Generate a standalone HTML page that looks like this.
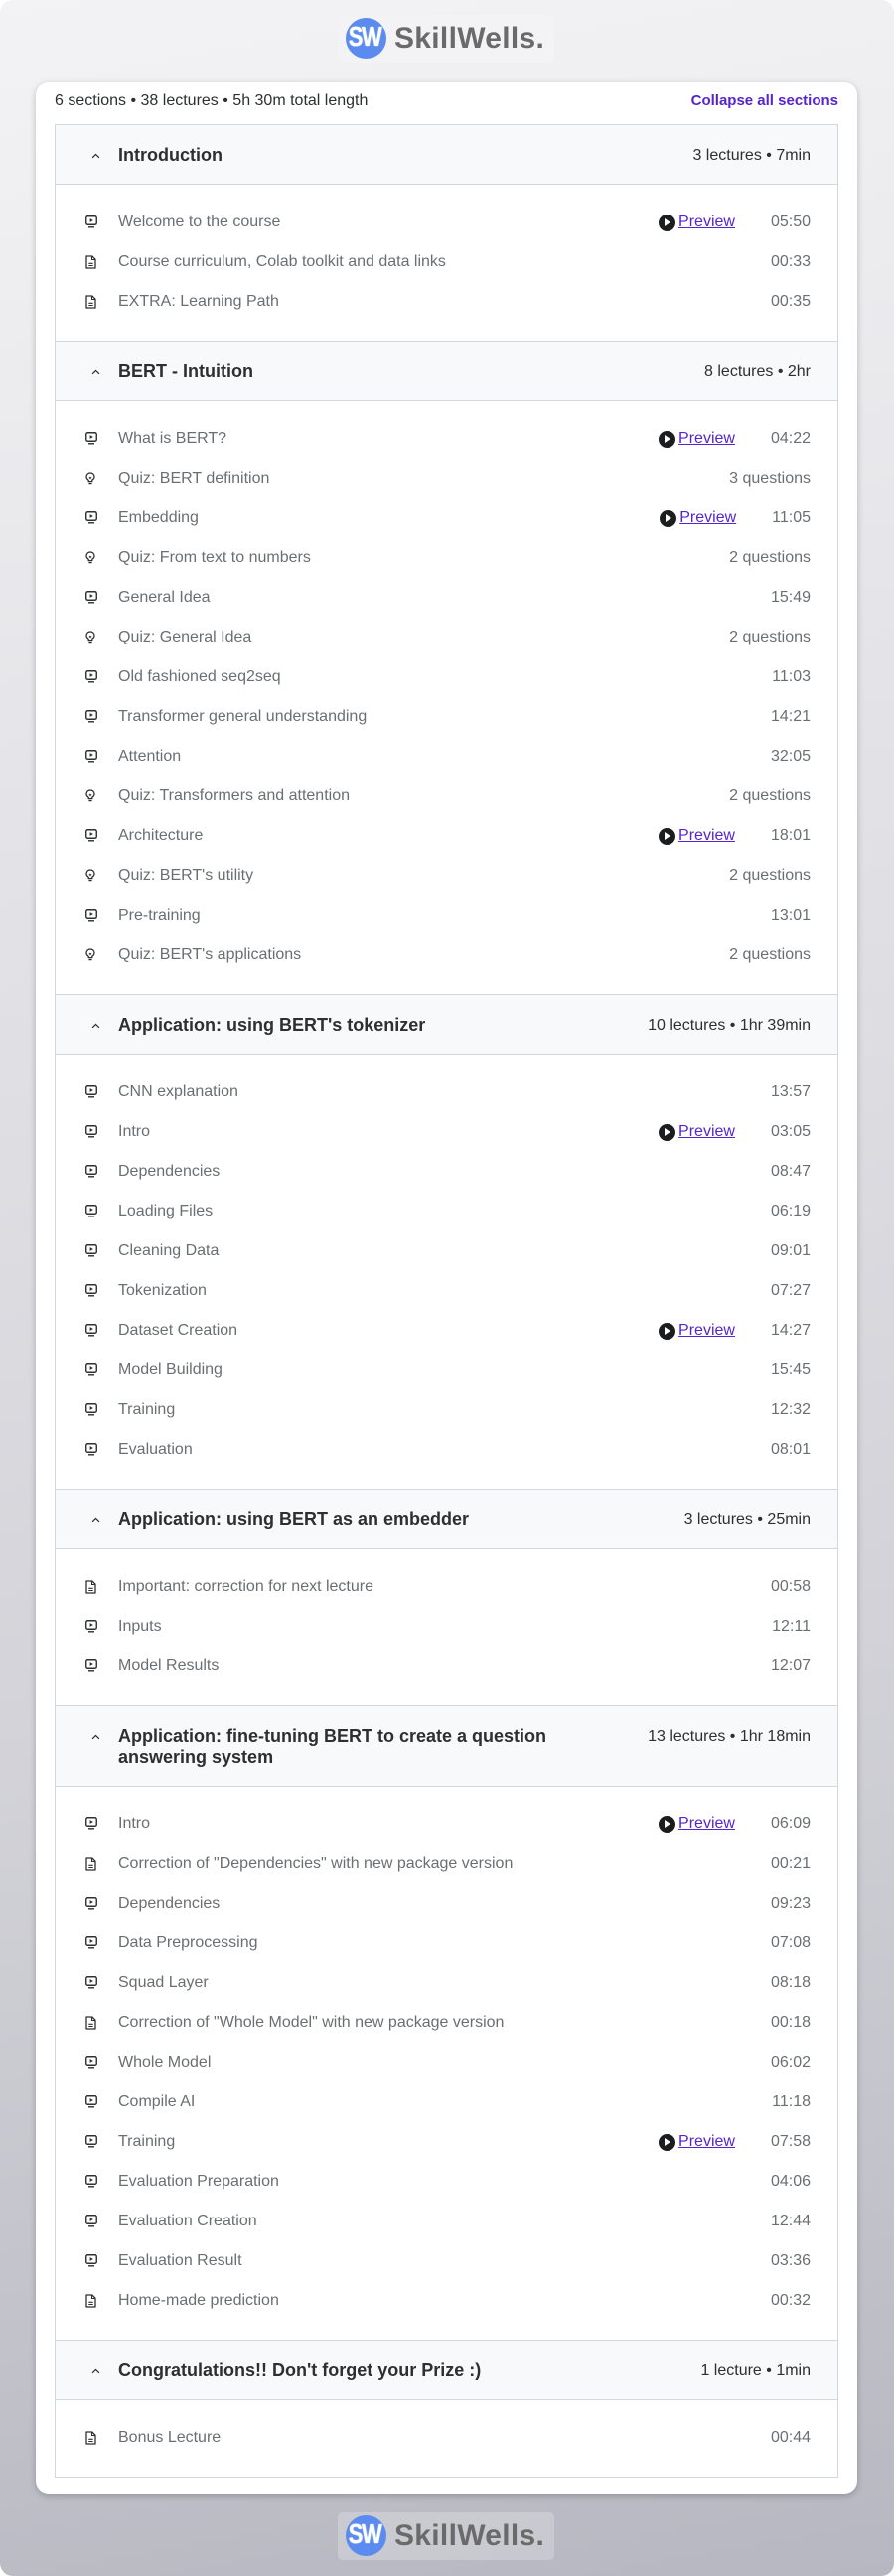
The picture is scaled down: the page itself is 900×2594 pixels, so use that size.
<!DOCTYPE html>
<html><head><meta charset="utf-8">
<style>
*{box-sizing:border-box;margin:0;padding:0}
html,body{width:900px;height:2594px;background:#fff;overflow:hidden}
body{font-family:"Liberation Sans",Arial,sans-serif;position:relative}
.bg{position:absolute;left:0;top:0;width:900px;height:2594px;border-radius:13px;background:linear-gradient(170deg,#f3f3f5 0%,#e4e4e8 30%,#d2d2d8 65%,#b7b7c1 100%)}
.logo{position:absolute;left:340px;width:218px;height:48px;border-radius:5px;background:#f3f3f5}
.logo.bot{background:rgba(255,255,255,0.22)}
.logo .c{position:absolute;left:8px;top:3px;width:41px;height:41px;border-radius:50%;background:#5b8bee}
.logo .sw{position:absolute;left:3px;top:8px;width:48px;text-align:center;color:#fff;font-weight:bold;font-size:22px;line-height:28px;letter-spacing:-1.5px;transform:scaleY(1.25);text-shadow:0 0 1px #fff}
.logo .t{position:absolute;left:57px;top:8px;color:#6a6a6a;font-weight:bold;font-size:30px;line-height:32px;letter-spacing:0.3px}
.card{position:absolute;left:36px;top:83px;width:827px;height:2428px;background:#fff;border-radius:13px;box-shadow:0 2px 7px rgba(0,0,0,0.22)}
.sum{position:absolute;left:19px;top:9px;font-size:16px;line-height:20px;color:#2d2f31}
.col{position:absolute;right:19px;top:9px;font-size:15px;line-height:20px;color:#5624d0;font-weight:bold}
.box{position:absolute;left:19px;top:42px;width:789px;border:1px solid #d1d7dc}
.sh{position:relative;background:#f7f9fa;border-bottom:1px solid #d1d7dc;padding:20px 27px 18px 63px;display:flex;justify-content:space-between;align-items:flex-start}
.sh .ti{font-weight:bold;font-size:18px;line-height:21px;color:#2d2f31}
.sh .me{font-size:16px;line-height:21px;color:#2d2f31;white-space:nowrap}
.sh svg.ch{position:absolute;left:36px;top:28px}
.ct{padding:18px 0 19px 0;border-bottom:1px solid #d1d7dc}
.ct.last{border-bottom:none}
.r{position:relative;height:40px}
.r svg.ic{position:absolute;left:30px;top:13px}
.r .n{position:absolute;left:63px;top:10px;font-size:16px;line-height:20px;color:#6a6f73;white-space:nowrap}
.r .rt{position:absolute;right:27px;top:10px;font-size:16px;line-height:20px;color:#6a6f73;display:flex;align-items:center;white-space:nowrap}
.pv{display:flex;align-items:center;margin-right:36px}
.pv .pc{width:17px;height:17px;border-radius:50%;background:#1c1d1f;position:relative;margin-right:3px}
.pv .pc:after{content:"";position:absolute;left:6px;top:4.5px;border-left:6px solid #fff;border-top:4px solid transparent;border-bottom:4px solid transparent}
.pv a{color:#5624d0;text-decoration:underline}
</style></head><body>
<div class="bg"></div>
<svg width="0" height="0" style="position:absolute">
<defs>
<symbol id="vid" viewBox="0 0 12 13"><rect x="0.75" y="0.75" width="10.5" height="8.5" rx="1.5" fill="none" stroke="#2d2f31" stroke-width="1.4"/><path d="M4.6 3.1 L7.9 5 L4.6 6.9 Z" fill="#2d2f31"/><path d="M3 11.8 H9" stroke="#2d2f31" stroke-width="1.4"/></symbol>
<symbol id="doc" viewBox="0 0 11 14"><path d="M1 1 H6.8 L10 4.2 V13 H1 Z" fill="none" stroke="#2d2f31" stroke-width="1.3" stroke-linejoin="round"/><path d="M6.5 1 V4.5 H10" fill="none" stroke="#2d2f31" stroke-width="1.1"/><path d="M3.3 8.3 H7.7 M3.3 10.5 H7.7" stroke="#2d2f31" stroke-width="1.1"/></symbol>
<symbol id="quiz" viewBox="0 0 10 13"><path d="M3.2 8.3 C1.8 7.4 1 6.2 1 4.8 C1 2.6 2.8 1 5 1 C7.2 1 9 2.6 9 4.8 C9 6.2 8.2 7.4 6.8 8.3 V9.6 H3.2 Z" fill="none" stroke="#2d2f31" stroke-width="1.3" stroke-linejoin="round"/><path d="M3.4 11.6 H6.6" stroke="#2d2f31" stroke-width="1.3"/><path d="M4 5 L5 6.6 L6 5" fill="none" stroke="#2d2f31" stroke-width="1"/></symbol>
<symbol id="chev" viewBox="0 0 10 6"><path d="M1.2 5 L5 1.3 L8.8 5" fill="none" stroke="#2d2f31" stroke-width="1.4"/></symbol>
</defs></svg>

<div class="logo" style="top:15px"><div class="c"></div><div class="sw">SW</div><div class="t">SkillWells.</div></div>

<div class="card">
<div class="sum">6 sections • 38 lectures • 5h 30m total length</div>
<div class="col">Collapse all sections</div>
<div class="box">

<div class="sh"><svg class="ch" width="9" height="6"><use href="#chev"/></svg><div class="ti">Introduction</div><div class="me">3 lectures • 7min</div></div>
<div class="ct">
<div class="r"><svg class="ic" width="12" height="13"><use href="#vid"/></svg><div class="n">Welcome to the course</div><div class="rt"><span class="pv"><span class="pc"></span><a>Preview</a></span>05:50</div></div>
<div class="r"><svg class="ic" width="11" height="14"><use href="#doc"/></svg><div class="n">Course curriculum, Colab toolkit and data links</div><div class="rt">00:33</div></div>
<div class="r"><svg class="ic" width="11" height="14"><use href="#doc"/></svg><div class="n">EXTRA: Learning Path</div><div class="rt">00:35</div></div>
</div>

<div class="sh"><svg class="ch" width="9" height="6"><use href="#chev"/></svg><div class="ti">BERT - Intuition</div><div class="me">8 lectures • 2hr</div></div>
<div class="ct">
<div class="r"><svg class="ic" width="12" height="13"><use href="#vid"/></svg><div class="n">What is BERT?</div><div class="rt"><span class="pv"><span class="pc"></span><a>Preview</a></span>04:22</div></div>
<div class="r"><svg class="ic" width="10" height="13"><use href="#quiz"/></svg><div class="n">Quiz: BERT definition</div><div class="rt">3 questions</div></div>
<div class="r"><svg class="ic" width="12" height="13"><use href="#vid"/></svg><div class="n">Embedding</div><div class="rt"><span class="pv"><span class="pc"></span><a>Preview</a></span>11:05</div></div>
<div class="r"><svg class="ic" width="10" height="13"><use href="#quiz"/></svg><div class="n">Quiz: From text to numbers</div><div class="rt">2 questions</div></div>
<div class="r"><svg class="ic" width="12" height="13"><use href="#vid"/></svg><div class="n">General Idea</div><div class="rt">15:49</div></div>
<div class="r"><svg class="ic" width="10" height="13"><use href="#quiz"/></svg><div class="n">Quiz: General Idea</div><div class="rt">2 questions</div></div>
<div class="r"><svg class="ic" width="12" height="13"><use href="#vid"/></svg><div class="n">Old fashioned seq2seq</div><div class="rt">11:03</div></div>
<div class="r"><svg class="ic" width="12" height="13"><use href="#vid"/></svg><div class="n">Transformer general understanding</div><div class="rt">14:21</div></div>
<div class="r"><svg class="ic" width="12" height="13"><use href="#vid"/></svg><div class="n">Attention</div><div class="rt">32:05</div></div>
<div class="r"><svg class="ic" width="10" height="13"><use href="#quiz"/></svg><div class="n">Quiz: Transformers and attention</div><div class="rt">2 questions</div></div>
<div class="r"><svg class="ic" width="12" height="13"><use href="#vid"/></svg><div class="n">Architecture</div><div class="rt"><span class="pv"><span class="pc"></span><a>Preview</a></span>18:01</div></div>
<div class="r"><svg class="ic" width="10" height="13"><use href="#quiz"/></svg><div class="n">Quiz: BERT's utility</div><div class="rt">2 questions</div></div>
<div class="r"><svg class="ic" width="12" height="13"><use href="#vid"/></svg><div class="n">Pre-training</div><div class="rt">13:01</div></div>
<div class="r"><svg class="ic" width="10" height="13"><use href="#quiz"/></svg><div class="n">Quiz: BERT's applications</div><div class="rt">2 questions</div></div>
</div>

<div class="sh"><svg class="ch" width="9" height="6"><use href="#chev"/></svg><div class="ti">Application: using BERT's tokenizer</div><div class="me">10 lectures • 1hr 39min</div></div>
<div class="ct">
<div class="r"><svg class="ic" width="12" height="13"><use href="#vid"/></svg><div class="n">CNN explanation</div><div class="rt">13:57</div></div>
<div class="r"><svg class="ic" width="12" height="13"><use href="#vid"/></svg><div class="n">Intro</div><div class="rt"><span class="pv"><span class="pc"></span><a>Preview</a></span>03:05</div></div>
<div class="r"><svg class="ic" width="12" height="13"><use href="#vid"/></svg><div class="n">Dependencies</div><div class="rt">08:47</div></div>
<div class="r"><svg class="ic" width="12" height="13"><use href="#vid"/></svg><div class="n">Loading Files</div><div class="rt">06:19</div></div>
<div class="r"><svg class="ic" width="12" height="13"><use href="#vid"/></svg><div class="n">Cleaning Data</div><div class="rt">09:01</div></div>
<div class="r"><svg class="ic" width="12" height="13"><use href="#vid"/></svg><div class="n">Tokenization</div><div class="rt">07:27</div></div>
<div class="r"><svg class="ic" width="12" height="13"><use href="#vid"/></svg><div class="n">Dataset Creation</div><div class="rt"><span class="pv"><span class="pc"></span><a>Preview</a></span>14:27</div></div>
<div class="r"><svg class="ic" width="12" height="13"><use href="#vid"/></svg><div class="n">Model Building</div><div class="rt">15:45</div></div>
<div class="r"><svg class="ic" width="12" height="13"><use href="#vid"/></svg><div class="n">Training</div><div class="rt">12:32</div></div>
<div class="r"><svg class="ic" width="12" height="13"><use href="#vid"/></svg><div class="n">Evaluation</div><div class="rt">08:01</div></div>
</div>

<div class="sh"><svg class="ch" width="9" height="6"><use href="#chev"/></svg><div class="ti">Application: using BERT as an embedder</div><div class="me">3 lectures • 25min</div></div>
<div class="ct">
<div class="r"><svg class="ic" width="11" height="14"><use href="#doc"/></svg><div class="n">Important: correction for next lecture</div><div class="rt">00:58</div></div>
<div class="r"><svg class="ic" width="12" height="13"><use href="#vid"/></svg><div class="n">Inputs</div><div class="rt">12:11</div></div>
<div class="r"><svg class="ic" width="12" height="13"><use href="#vid"/></svg><div class="n">Model Results</div><div class="rt">12:07</div></div>
</div>

<div class="sh"><svg class="ch" width="9" height="6"><use href="#chev"/></svg><div class="ti">Application: fine-tuning BERT to create a question<br>answering system</div><div class="me">13 lectures • 1hr 18min</div></div>
<div class="ct">
<div class="r"><svg class="ic" width="12" height="13"><use href="#vid"/></svg><div class="n">Intro</div><div class="rt"><span class="pv"><span class="pc"></span><a>Preview</a></span>06:09</div></div>
<div class="r"><svg class="ic" width="11" height="14"><use href="#doc"/></svg><div class="n">Correction of "Dependencies" with new package version</div><div class="rt">00:21</div></div>
<div class="r"><svg class="ic" width="12" height="13"><use href="#vid"/></svg><div class="n">Dependencies</div><div class="rt">09:23</div></div>
<div class="r"><svg class="ic" width="12" height="13"><use href="#vid"/></svg><div class="n">Data Preprocessing</div><div class="rt">07:08</div></div>
<div class="r"><svg class="ic" width="12" height="13"><use href="#vid"/></svg><div class="n">Squad Layer</div><div class="rt">08:18</div></div>
<div class="r"><svg class="ic" width="11" height="14"><use href="#doc"/></svg><div class="n">Correction of "Whole Model" with new package version</div><div class="rt">00:18</div></div>
<div class="r"><svg class="ic" width="12" height="13"><use href="#vid"/></svg><div class="n">Whole Model</div><div class="rt">06:02</div></div>
<div class="r"><svg class="ic" width="12" height="13"><use href="#vid"/></svg><div class="n">Compile AI</div><div class="rt">11:18</div></div>
<div class="r"><svg class="ic" width="12" height="13"><use href="#vid"/></svg><div class="n">Training</div><div class="rt"><span class="pv"><span class="pc"></span><a>Preview</a></span>07:58</div></div>
<div class="r"><svg class="ic" width="12" height="13"><use href="#vid"/></svg><div class="n">Evaluation Preparation</div><div class="rt">04:06</div></div>
<div class="r"><svg class="ic" width="12" height="13"><use href="#vid"/></svg><div class="n">Evaluation Creation</div><div class="rt">12:44</div></div>
<div class="r"><svg class="ic" width="12" height="13"><use href="#vid"/></svg><div class="n">Evaluation Result</div><div class="rt">03:36</div></div>
<div class="r"><svg class="ic" width="11" height="14"><use href="#doc"/></svg><div class="n">Home-made prediction</div><div class="rt">00:32</div></div>
</div>

<div class="sh"><svg class="ch" width="9" height="6"><use href="#chev"/></svg><div class="ti">Congratulations!! Don't forget your Prize :)</div><div class="me">1 lecture • 1min</div></div>
<div class="ct last">
<div class="r"><svg class="ic" width="11" height="14"><use href="#doc"/></svg><div class="n">Bonus Lecture</div><div class="rt">00:44</div></div>
</div>

</div>
</div>

<div class="logo bot" style="top:2530px"><div class="c"></div><div class="sw">SW</div><div class="t">SkillWells.</div></div>
</body></html>
